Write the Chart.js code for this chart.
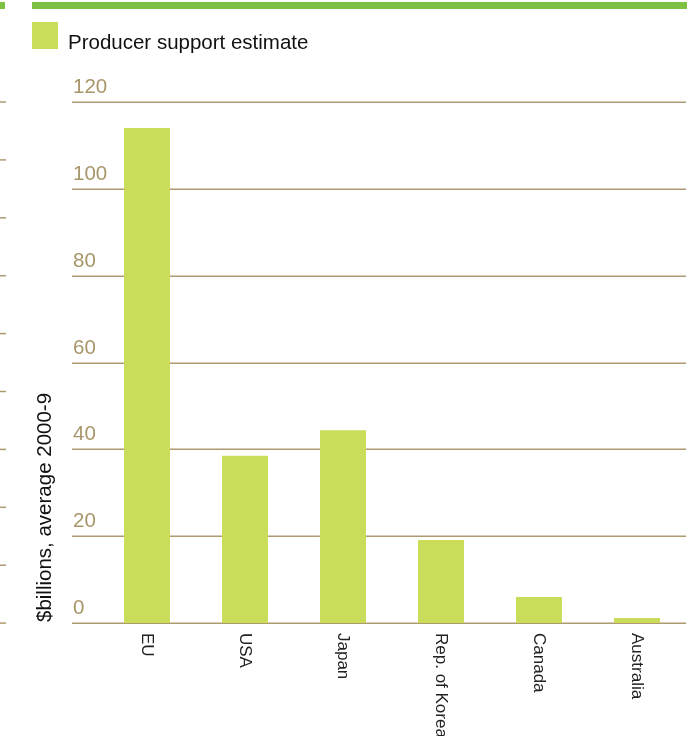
<!DOCTYPE html>
<html>
<head>
<meta charset="utf-8">
<script src="https://cdn.jsdelivr.net/npm/chart.js@4.4.1/dist/chart.umd.min.js"></script>
<style>
  html, body { margin:0; padding:0; background:#fff; }
  #wrap { width:693px; height:736px; position:relative; }
</style>
</head>
<body>
<div id="wrap"><canvas id="psChart" width="693" height="736"></canvas></div>
<script>
// producer support estimate, $bn average 2000-9
const countries = ['EU', 'USA', 'Japan', 'Rep. of Korea', 'Canada', 'Australia'];
const pseValues = [114.0, 38.5, 44.4, 19.1, 6.0, 1.15];
const yTicks = [0, 20, 40, 60, 80, 100, 120];

const BAR_GREEN = '#cadd5b';
const TOP_GREEN = '#7cc142';
const GRID_TAN = '#ad9a70';
const TICK_TAN = '#a8966a';
const FONT = '"Liberation Sans", Arial, sans-serif';

// draws the grid, tick text, category labels, legend and the bits of page furniture
const decor = {
  id: 'decor',
  beforeDatasetsDraw(chart){
    const ctx = chart.ctx;
    const y = chart.scales.y;
    const area = chart.chartArea;
    ctx.save();
    ctx.strokeStyle = GRID_TAN;
    ctx.lineWidth = 1.5;
    ctx.fillStyle = TICK_TAN;
    ctx.font = '20.5px ' + FONT;
    ctx.textAlign = 'left';
    ctx.textBaseline = 'alphabetic';
    for(const t of yTicks){
      const py = Math.round(y.getPixelForValue(t)) + 0.25;
      ctx.beginPath();
      ctx.moveTo(72, py);
      ctx.lineTo(area.right, py);
      ctx.stroke();
      ctx.fillText(String(t), 73, py - 9);
    }
    ctx.restore();
  },
  afterDraw(chart){
    const ctx = chart.ctx;
    const x = chart.scales.x;
    const area = chart.chartArea;
    ctx.save();

    // top rule
    ctx.fillStyle = TOP_GREEN;
    ctx.fillRect(32, 2, 655, 7);
    ctx.fillRect(0, 2, 5, 7);

    // cut-off ticks of the neighbouring panel
    ctx.strokeStyle = GRID_TAN;
    ctx.lineWidth = 1.5;
    for(let i=0;i<10;i++){
      const py = 102 + i*57.9;
      ctx.beginPath();
      ctx.moveTo(0, py);
      ctx.lineTo(6, py);
      ctx.stroke();
    }

    // legend
    const ds = chart.data.datasets[0];
    ctx.fillStyle = ds.backgroundColor;
    ctx.fillRect(32, 22, 26, 27);
    ctx.fillStyle = '#111';
    ctx.font = '20.5px ' + FONT;
    ctx.textAlign = 'left';
    ctx.textBaseline = 'alphabetic';
    ctx.fillText(ds.label, 68, 49);

    // y axis title
    ctx.save();
    ctx.translate(45, area.bottom - 1);
    ctx.rotate(-Math.PI/2);
    ctx.textAlign = 'left';
    ctx.textBaseline = 'middle';
    ctx.fillStyle = '#111';
    ctx.fillText('$billions, average 2000-9', 0, 0);
    ctx.restore();

    // category labels, rotated clockwise
    ctx.font = '17px ' + FONT;
    ctx.fillStyle = '#222';
    countries.forEach((c, i)=>{
      const px = x.getPixelForTick(i);
      ctx.save();
      ctx.translate(px, area.bottom + 10);
      ctx.rotate(Math.PI/2);
      ctx.textAlign = 'left';
      ctx.textBaseline = 'middle';
      ctx.fillText(c, 0, 0);
      ctx.restore();
    });
    ctx.restore();
  }
};

new Chart(document.getElementById('psChart'), {
  type: 'bar',
  data: {
    labels: countries,
    datasets: [{
      label: 'Producer support estimate',
      data: pseValues,
      backgroundColor: BAR_GREEN,
      borderWidth: 0,
      barPercentage: 0.47,
      categoryPercentage: 1.0
    }]
  },
  options: {
    responsive: false,
    animation: false,
    devicePixelRatio: 1,
    layout: { padding: { left: 98, right: 7, top: 102, bottom: 113 } },
    plugins: { legend: { display: false }, tooltip: { enabled: false } },
    scales: {
      x: { display: false },
      y: { display: false, min: 0, max: 120 }
    }
  },
  plugins: [decor]
});
</script>
</body>
</html>
